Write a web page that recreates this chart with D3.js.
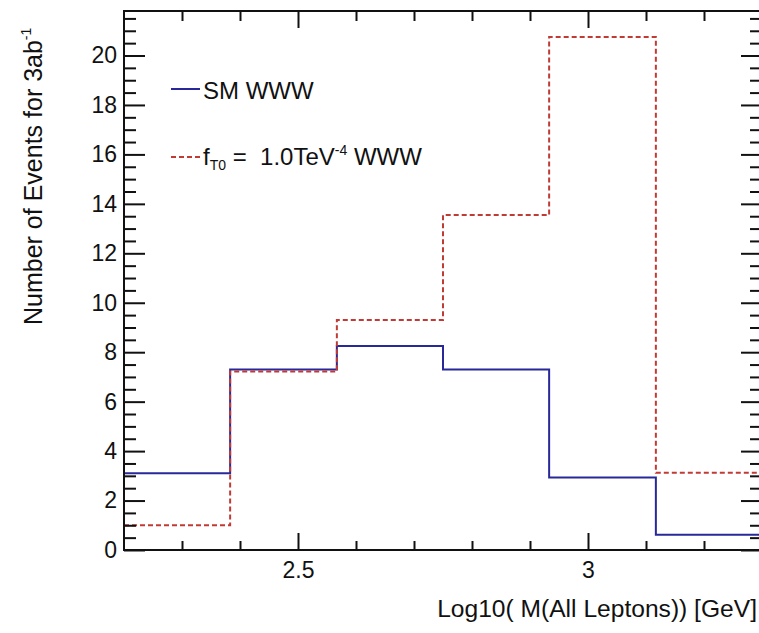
<!DOCTYPE html>
<html>
<head>
<meta charset="utf-8">
<script src="https://cdn.jsdelivr.net/npm/d3@7"></script>
<style>
  html, body { margin: 0; padding: 0; background: #fff; }
  svg { display: block; }
  text { font-family: "Liberation Sans", Arial, Helvetica, sans-serif; fill: #111; }
</style>
</head>
<body>
<svg id="chart" width="759" height="633"></svg>
<script>
// ---- data ----
const binEdges = [2.2, 2.383, 2.567, 2.75, 2.933, 3.117, 3.3];
const smWWW    = [3.1, 7.3, 8.25, 7.3, 2.93, 0.62];
const fT0WWW   = [1.0, 7.22, 9.3, 13.55, 20.75, 3.12];
const xMajorTicks = [2.5, 3];
const xTickLabels = ["2.5", "3"];
const yMajorTicks = [0, 2, 4, 6, 8, 10, 12, 14, 16, 18, 20];
const yTickLabels = ["0", "2", "4", "6", "8", "10", "12", "14", "16", "18", "20"];
const legendLabels = ["SM WWW", "fT0"];

// ---- layout ----
const L = 124, R = 762, T = 11, B = 550;
const svg = d3.select("#chart");

const x = d3.scaleLinear().domain([2.2, 3.3]).range([L, R]);
const y = d3.scaleLinear().domain([0, 21.8]).range([B, T]);

const blue = "#28289a";
const red = "#c23a34";

// ---- histograms (step lines) ----
function stepPoints(vals) {
  const pts = [];
  vals.forEach((v, i) => {
    pts.push([binEdges[i], v]);
    pts.push([binEdges[i + 1], v]);
  });
  return pts;
}
const line = d3.line().x(d => x(d[0])).y(d => y(d[1]));

svg.append("path")
  .attr("d", line(stepPoints(smWWW)))
  .attr("fill", "none").attr("stroke", blue).attr("stroke-width", 2);

svg.append("path")
  .attr("d", line(stepPoints(fT0WWW)))
  .attr("fill", "none").attr("stroke", red).attr("stroke-width", 2)
  .attr("stroke-dasharray", "5,3");

// ---- axes (ROOT style, inward ticks) ----
const xMinor = d3.range(2.3, 3.29, 0.1).filter(v => Math.abs(v * 2 - Math.round(v * 2)) > 1e-6);
const yMinor = d3.range(0.5, 21.8, 0.5).filter(v => Math.abs(v / 2 - Math.round(v / 2)) > 1e-6);

function styleAxis(g) {
  g.select(".domain").remove();
  g.selectAll(".tick line").attr("stroke", "#111").attr("stroke-width", 2);
}

// bottom
svg.append("g").attr("transform", `translate(0,${B})`)
  .call(d3.axisBottom(x).tickValues(xMinor).tickSize(-9).tickFormat(""))
  .call(styleAxis);
const bottomMajor = svg.append("g").attr("transform", `translate(0,${B})`)
  .call(d3.axisBottom(x).tickValues(xMajorTicks).tickSize(-17).tickPadding(12)
    .tickFormat((d, i) => xTickLabels[i]))
  .call(styleAxis);
bottomMajor.selectAll("text").attr("font-size", 23).attr("font-family", null).attr("fill", "#222");

// top
svg.append("g").attr("transform", `translate(0,${T})`)
  .call(d3.axisTop(x).tickValues(xMinor).tickSize(-10).tickFormat(""))
  .call(styleAxis);
svg.append("g").attr("transform", `translate(0,${T})`)
  .call(d3.axisTop(x).tickValues(xMajorTicks).tickSize(-17).tickFormat(""))
  .call(styleAxis);

// left
svg.append("g").attr("transform", `translate(${L},0)`)
  .call(d3.axisLeft(y).tickValues(yMinor).tickSize(-12).tickFormat(""))
  .call(styleAxis);
const leftMajor = svg.append("g").attr("transform", `translate(${L},0)`)
  .call(d3.axisLeft(y).tickValues(yMajorTicks).tickSize(-21).tickPadding(7)
    .tickFormat((d, i) => yTickLabels[i]))
  .call(styleAxis);
leftMajor.selectAll("text").attr("font-size", 23).attr("font-family", null).attr("fill", "#222");

// right
svg.append("g").attr("transform", `translate(${R},0)`)
  .call(d3.axisRight(y).tickValues(yMinor).tickSize(-12).tickFormat(""))
  .call(styleAxis);
svg.append("g").attr("transform", `translate(${R},0)`)
  .call(d3.axisRight(y).tickValues(yMajorTicks).tickSize(-21).tickFormat(""))
  .call(styleAxis);

// frame
svg.append("rect")
  .attr("x", L).attr("y", T).attr("width", R - L).attr("height", B - T)
  .attr("fill", "none").attr("stroke", "#111").attr("stroke-width", 2);

// ---- axis titles ----
svg.append("text")
  .attr("x", 757).attr("y", 617)
  .attr("text-anchor", "end")
  .attr("font-size", 24.6)
  .attr("fill", "#222")
  .text("Log10( M(All Leptons)) [GeV]");

const yt = svg.append("text")
  .attr("transform", "translate(42,325) rotate(-90)")
  .attr("text-anchor", "start")
  .attr("font-size", 25)
  .attr("fill", "#222");
yt.append("tspan").text("Number of Events for 3ab");
yt.append("tspan").attr("font-size", 14).attr("dy", -11).text("-1");

// ---- legend ----
const lg = svg.append("g");
lg.append("line")
  .attr("x1", 171).attr("x2", 200).attr("y1", 89).attr("y2", 89)
  .attr("stroke", blue).attr("stroke-width", 2);
lg.append("text").attr("x", 203).attr("y", 99).attr("font-size", 24).attr("fill", "#222")
  .text(legendLabels[0]);

lg.append("line")
  .attr("x1", 171).attr("x2", 200).attr("y1", 157).attr("y2", 157)
  .attr("stroke", red).attr("stroke-width", 2).attr("stroke-dasharray", "5,3");
const t2 = lg.append("text").attr("x", 203).attr("y", 165).attr("font-size", 24).attr("fill", "#222")
  .attr("xml:space", "preserve");
t2.append("tspan").text("f");
t2.append("tspan").attr("font-size", 14).attr("dy", 5).text("T0");
t2.append("tspan").attr("dy", -5).text(" =  1.0TeV");
t2.append("tspan").attr("font-size", 14).attr("dy", -10).text("-4");
t2.append("tspan").attr("dy", 10).text(" WWW");
</script>
</body>
</html>
